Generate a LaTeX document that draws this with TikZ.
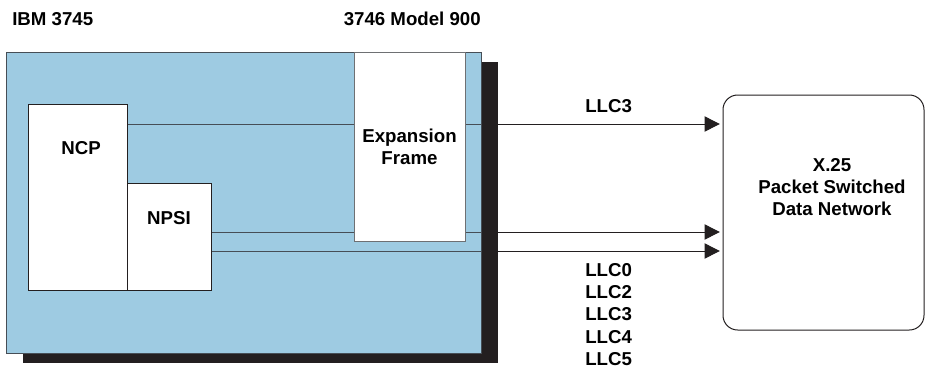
\documentclass[tikz,border=0pt]{standalone}
\usepackage{fontspec}
\setmainfont{Liberation Sans}
\usetikzlibrary{arrows.meta,positioning}
\definecolor{ibmblue}{RGB}{158,203,226}
\definecolor{shadowgray}{RGB}{35,31,32}
\definecolor{linegray}{RGB}{70,78,86}
\definecolor{framegray}{RGB}{110,112,115}
\tikzset{
  lbl/.style={font=\bfseries\fontsize{14}{16.7}\selectfont, inner sep=0pt, align=center},
  unit/.style={draw=shadowgray, fill=white, line width=0.75pt, inner sep=0pt},
  link/.style={draw=linegray, line width=0.75pt},
  feed/.style={link, draw=shadowgray, -{Triangle[length=11.5pt,width=11.5pt]}, shorten >=2pt},
}
\begin{document}
\begin{tikzpicture}[x=0.75pt, y=-0.75pt]
    \useasboundingbox (0,0) rectangle (925,369);
    % Titles
    \node[lbl, anchor=west] (ibmtitle) at (12,19) {IBM 3745};
    \node[lbl, anchor=east] (modeltitle) at (481,19) {3746 Model 900};

    % Controller box and its shadow
    \node[fill=shadowgray, inner sep=0pt, minimum width=356.25pt, minimum height=225.75pt] (shadow) at (260.5,212) {};
    \node[draw=linegray, fill=ibmblue, line width=0.75pt, inner sep=0pt, minimum width=356.25pt, minimum height=225.75pt] (ibm) at (243.5,202.5) {};

    % Link levels
    \coordinate (lvlA) at (0,124);
    \coordinate (lvlB) at (0,232);
    \coordinate (lvlC) at (0,251);

    % Programs
    \node[unit, minimum width=74.25pt, minimum height=139.5pt] (ncp) at (77.5,197) {};
    \node[unit, minimum width=63pt, minimum height=80.25pt] (npsi) at (169,236.5) {};
    \draw[link] (ncp.east |- lvlA) -- (ibm.east |- lvlA);
    \draw[link] (npsi.east |- lvlB) -- (ibm.east |- lvlB);
    \draw[link] (npsi.east |- lvlC) -- (ibm.east |- lvlC);
    \node[lbl] (ncptxt) at (81,148) {NCP};
    \node[lbl] (npsitxt) at (169,218) {NPSI};

    % Expansion frame
    \node[unit, draw=framegray, align=center, font=\bfseries\fontsize{14}{16.7}\selectfont, minimum width=83.25pt, minimum height=141.75pt] (frame) at (409.5,146.5) {\raisebox{-3pt}{Expansion}\\\raisebox{-3pt}{Frame}};

    % Network
    \node[draw=shadowgray, line width=0.75pt, rounded corners=11pt, minimum width=150.75pt, minimum height=176.25pt, inner sep=0pt] (x25) at (823.5,212.5) {};
    \node[lbl] (x25txt) at (832,187) {X.25\\Packet Switched\\Data Network};

    \draw[feed] (shadow.east |- lvlA) -- (x25.west |- lvlA);
    \draw[feed] (shadow.east |- lvlB) -- (x25.west |- lvlB);
    \draw[feed] (shadow.east |- lvlC) -- (x25.west |- lvlC);
    \node[lbl, anchor=west] (llctop) at (585,106) {LLC3};
    \node[lbl, anchor=west, align=left] (llclist) at (585,314.5) {LLC0\\LLC2\\LLC3\\LLC4\\LLC5};
\end{tikzpicture}
\end{document}
